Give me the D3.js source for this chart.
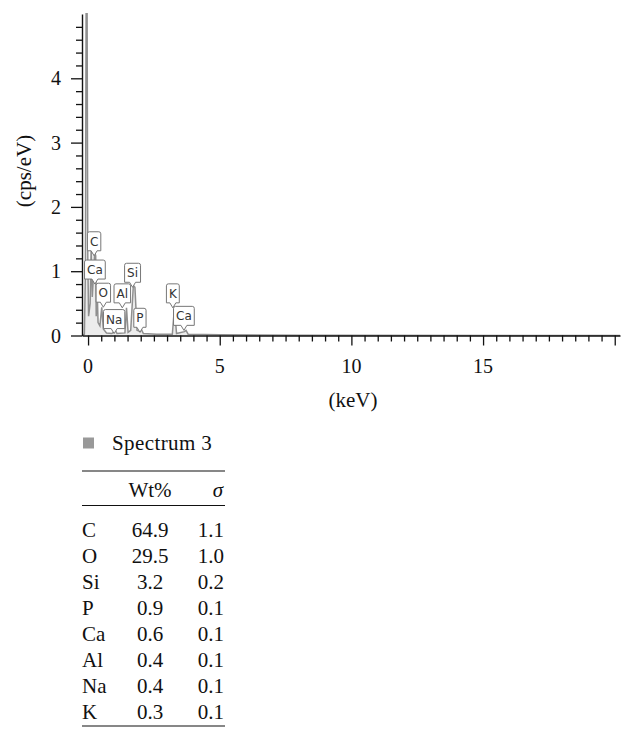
<!DOCTYPE html>
<html><head><meta charset="utf-8">
<script src="https://cdn.jsdelivr.net/npm/d3@7"></script>
<style>body{margin:0;background:#fff}svg{display:block}</style>
</head><body>
<script>
// ---- data ----
const spectrumKeV = [-0.23,-0.14,-0.1,-0.07,-0.04,-0.01,0.02,0.08,0.12,0.16,0.2,0.25,0.29,0.31,0.34,0.38,0.45,0.52,0.58,0.7,0.9,1.0,1.04,1.1,1.4,1.46,1.52,1.62,1.72,1.78,1.86,1.98,2.02,2.1,2.6,3.2,3.28,3.36,3.66,3.72,3.8,5,8,20.2];
const spectrumCps = [0,0.02,1.0,5.6,5.6,1.2,0.3,0.5,1.4,0.6,0.9,1.3,1.24,0.3,0.8,0.2,0.15,0.44,0.1,0.04,0.03,0.06,0.08,0.03,0.04,0.43,0.05,0.08,0.78,0.75,0.08,0.06,0.1,0.03,0.02,0.02,0.43,0.03,0.06,0.08,0.02,0.01,0.005,0];
const peakNames = ["C","Ca","O","Na","Al","Si","P","K","Ca"];
const peakKeV   = [0.23,0.26,0.58,0.99,1.30,1.69,1.97,3.22,3.64];
const peakTip   = [1.24,0.80,0.44,0.03,0.43,0.75,0.05,0.43,0.08];
const xTickLabels = [0,5,10,15];
const yTickLabels = [0,1,2,3,4];
const legendName = "Spectrum 3";
const elements = ["C","O","Si","P","Ca","Al","Na","K"];
const wtPct    = ["64.9","29.5","3.2","0.9","0.6","0.4","0.4","0.3"];
const sigma    = ["1.1","1.0","0.2","0.1","0.1","0.1","0.1","0.1"];

const W = 636, H = 741;
const svg = d3.select("body").append("svg").attr("width", W).attr("height", H);
const serif = "'Liberation Serif','Times New Roman',serif";

const x = d3.scaleLinear().domain([-0.23, 20.2]).range([82, 620]);
const y = d3.scaleLinear().domain([0, 5]).range([335.5, 14]);

svg.append("clipPath").attr("id","plot").append("rect")
  .attr("x", 82).attr("y", 13).attr("width", 540).attr("height", 323);

// spectrum
const pts = spectrumKeV.map((k,i)=>[k, spectrumCps[i]]);
const area = d3.area().x(d=>x(d[0])).y0(y(0)).y1(d=>y(d[1]));
const line = d3.line().x(d=>x(d[0])).y(d=>y(d[1]));
const g = svg.append("g").attr("clip-path","url(#plot)");
g.append("path").datum(pts).attr("d", area).attr("fill", "#ececec");
g.append("path").datum(pts).attr("d", line).attr("fill","none").attr("stroke","#8f8f8f").attr("stroke-width",1.5);

// axes
const xTicks = d3.range(0, 20.01, 0.5);
const xAxis = d3.axisBottom(x).tickValues(xTicks).tickSize(6).tickSizeOuter(0).tickFormat("");
const gx = svg.append("g").attr("transform", `translate(0,${y(0)})`).call(xAxis);
gx.select(".domain").attr("stroke","#111").attr("stroke-width",1.4);
gx.selectAll(".tick line").attr("stroke","#111").attr("stroke-width",1.3)
  .attr("y2", d => (Math.abs(d % 5) < 1e-9 ? 10 : 6));
svg.append("g").selectAll("text").data(xTickLabels).join("text")
  .attr("x", d=>x(d)).attr("y", 373).attr("text-anchor","middle")
  .attr("font-family", serif).attr("font-size", 20).attr("fill","#111").text(d=>d);

const yTicks = d3.range(0, 4.81, 0.2);
const yAxis = d3.axisLeft(y).tickValues(yTicks).tickSize(6).tickSizeOuter(0).tickFormat("");
const gy = svg.append("g").attr("transform", `translate(82,0)`).call(yAxis);
gy.select(".domain").attr("stroke","#111").attr("stroke-width",1.4);
gy.selectAll(".tick line").attr("stroke","#111").attr("stroke-width",1.3)
  .attr("x2", d => (Math.abs(d - Math.round(d)) < 1e-9 ? -11 : -6));
svg.append("g").selectAll("text").data(yTickLabels).join("text")
  .attr("x", 61).attr("y", d=>y(d)+7).attr("text-anchor","end")
  .attr("font-family", serif).attr("font-size", 20).attr("fill","#111").text(d=>d);

svg.append("text").attr("transform","translate(31,171) rotate(-90)").attr("text-anchor","middle")
  .attr("font-family", serif).attr("font-size", 21).attr("fill","#111").text("(cps/eV)");
svg.append("text").attr("x", 353).attr("y", 407).attr("text-anchor","middle")
  .attr("font-family", serif).attr("font-size", 21).attr("fill","#111").text("(keV)");

// peak labels
const lab = svg.append("g");
peakNames.forEach((n,i)=>{
  const cx = x(peakKeV[i]), tip = y(peakTip[i]);
  const t = lab.append("text").attr("font-family","'DejaVu Sans',sans-serif").attr("font-size",12)
    .attr("fill","#333").attr("text-anchor","middle").text(n);
  const w = t.node().getComputedTextLength() + 5;
  const h = 19, bot = tip - 5, top = bot - h, l = cx - w/2, r = cx + w/2;
  const p = `M${l},${top+2} Q${l},${top} ${l+2},${top} L${r-2},${top} Q${r},${top} ${r},${top+2} L${r},${bot} L${cx+3},${bot} L${cx},${tip} L${cx-3},${bot} L${l},${bot} Z`;
  lab.insert("path", "text").attr("d", p).attr("fill","#fff").attr("stroke","#777").attr("stroke-width",1);
  t.attr("x", cx).attr("y", bot - 5).raise();
});

// legend
svg.append("rect").attr("x",83).attr("y",437.5).attr("width",11).attr("height",11).attr("fill","#999");
svg.append("text").attr("x",112).attr("y",450).attr("font-family",serif).attr("font-size",21)
  .attr("letter-spacing",0.4).attr("fill","#111").text(legendName);

// table
const tbl = svg.append("g").attr("font-family",serif).attr("font-size",21).attr("fill","#111");
[471, 505.5, 726].forEach(yy => tbl.append("line").attr("x1",82).attr("x2",225).attr("y1",yy).attr("y2",yy)
  .attr("stroke","#111").attr("stroke-width",1.2));
tbl.append("text").attr("x",150).attr("y",497).attr("text-anchor","middle").text("Wt%");
tbl.append("text").attr("x",223).attr("y",497).attr("text-anchor","end").attr("font-style","italic").text("σ");
const rowY = d3.scaleLinear().domain([0,7]).range([537, 719]);
elements.forEach((e,i)=>{
  tbl.append("text").attr("x",82).attr("y",rowY(i)).text(e);
  tbl.append("text").attr("x",150).attr("y",rowY(i)).attr("text-anchor","middle").text(wtPct[i]);
  tbl.append("text").attr("x",224).attr("y",rowY(i)).attr("text-anchor","end").text(sigma[i]);
});
</script>
</body></html>
